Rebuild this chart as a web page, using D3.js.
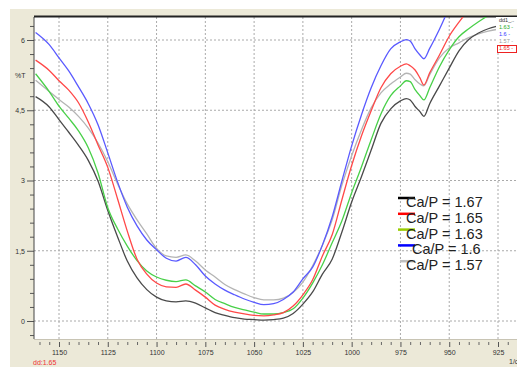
<!DOCTYPE html>
<html>
<head>
<meta charset="utf-8">
<script src="https://cdn.jsdelivr.net/npm/d3@7"></script>
<style>
  body { margin: 0; background: #fff; }
  svg { display: block; font-family: "Liberation Sans", Arial, sans-serif; }
</style>
</head>
<body>
<svg width="517" height="367"></svg>
<script>
// wavenumbers (1/cm) shared by all spectra
const waves = [1162, 1155, 1150, 1145, 1140, 1135, 1130, 1125, 1120, 1115, 1110, 1105,
  1100, 1095, 1090, 1085, 1080, 1075, 1070, 1065, 1060, 1055, 1050, 1045, 1040, 1035,
  1030, 1025, 1020, 1015, 1010, 1005, 1000, 995, 990, 985, 980, 975, 972, 970, 967.5,
  965, 963, 960, 955, 950, 945, 940, 935, 930, 925, 920, 916];

// %T for each Ca/P ratio
const t167 = [4.79, 4.57, 4.30, 4.03, 3.75, 3.43, 2.99, 2.36, 1.80, 1.28, 0.92, 0.67,
  0.51, 0.43, 0.41, 0.43, 0.38, 0.28, 0.18, 0.12, 0.07, 0.04, 0.03, 0.02, 0.03, 0.06,
  0.16, 0.36, 0.62, 1.00, 1.32, 1.90, 2.54, 3.08, 3.65, 4.22, 4.53, 4.70, 4.75, 4.72, 4.58,
  4.47, 4.37, 4.64, 5.02, 5.40, 5.77, 6.01, 6.15, 6.24, 6.30, 6.35, 6.37];
const t165 = [5.57, 5.35, 5.13, 4.93, 4.66, 4.25, 3.76, 3.28, 2.61, 1.92, 1.32, 1.00,
  0.81, 0.73, 0.72, 0.79, 0.66, 0.51, 0.34, 0.25, 0.19, 0.15, 0.12, 0.11, 0.13, 0.18,
  0.32, 0.56, 0.88, 1.39, 1.84, 2.59, 3.32, 3.95, 4.49, 4.98, 5.28, 5.44, 5.49, 5.45, 5.36,
  5.19, 5.04, 5.30, 5.68, 6.08, 6.38, 6.65, 6.90, 7.10, 7.25, 7.40, 7.50];
const t163 = [5.28, 4.90, 4.59, 4.33, 4.06, 3.70, 3.16, 2.42, 1.97, 1.60, 1.29, 1.07,
  0.94, 0.87, 0.84, 0.88, 0.75, 0.62, 0.46, 0.37, 0.29, 0.24, 0.19, 0.15, 0.15, 0.18,
  0.26, 0.49, 0.81, 1.20, 1.67, 2.14, 2.74, 3.29, 3.87, 4.42, 4.81, 5.02, 5.13, 5.11, 4.94,
  4.81, 4.72, 4.98, 5.43, 5.79, 6.07, 6.24, 6.39, 6.52, 6.62, 6.73, 6.79];
const t160 = [6.16, 5.90, 5.62, 5.34, 5.00, 4.64, 4.19, 3.59, 2.97, 2.43, 2.03, 1.73,
  1.52, 1.34, 1.28, 1.36, 1.20, 0.96, 0.79, 0.66, 0.56, 0.47, 0.40, 0.35, 0.37, 0.46,
  0.62, 0.90, 1.15, 1.62, 2.22, 2.99, 3.74, 4.40, 4.98, 5.45, 5.81, 5.96, 6.01, 5.98, 5.81,
  5.68, 5.60, 5.82, 6.23, 6.68, 7.05, 7.35, 7.60, 7.80, 7.90, 8.00, 8.00];
const t157 = [5.14, 4.90, 4.73, 4.57, 4.37, 4.12, 3.80, 3.40, 2.93, 2.50, 2.16, 1.86,
  1.55, 1.39, 1.36, 1.41, 1.28, 1.09, 0.94, 0.78, 0.67, 0.58, 0.50, 0.45, 0.45, 0.49,
  0.61, 0.83, 1.18, 1.62, 2.16, 2.90, 3.53, 4.08, 4.55, 4.87, 5.06, 5.21, 5.29, 5.27, 5.15,
  5.06, 5.02, 5.26, 5.62, 5.83, 5.94, 6.05, 6.13, 6.19, 6.23, 6.26, 6.28];

const names = ["Ca/P = 1.67", "Ca/P = 1.65", "Ca/P = 1.63", "Ca/P = 1.6", "Ca/P = 1.57"];
const lineColors = ["#4a4a4a", "#ff4848", "#48d048", "#5a5aff", "#b4b4b4"];
const keyColors = ["#000000", "#ff0000", "#99cc00", "#0000ff", "#c0c0c0"];
const seriesValues = [t167, t165, t163, t160, t157];

const yMajor = [0, 1.5, 3, 4.5, 6];
const xMajor = [1150, 1125, 1100, 1075, 1050, 1025, 1000, 975, 950, 925];

const miniLabels = ["dd1_..", "1.63 -", "1.6 -", "1.57 -", "1.65 -"];
const miniColors = ["#333", "#2a2", "#33f", "#999", "#e22"];

const W = 517, H = 367;
const plot = { left: 34, right: 517, top: 17, bottom: 339 };

const svg = d3.select("svg");

// beige frame
svg.append("rect").attr("x", 10).attr("y", 9).attr("width", W - 10).attr("height", H - 9)
  .attr("fill", "#ece9d8");
svg.append("rect").attr("x", plot.left).attr("y", plot.top)
  .attr("width", plot.right - plot.left).attr("height", plot.bottom - plot.top)
  .attr("fill", "#fff");

const x = d3.scaleLinear().domain([1150, 925]).range([59, 498]);
const y = d3.scaleLinear().domain([0, 6]).range([321, 40]);

// grid
const grid = svg.append("g").attr("stroke", "#aaa").attr("stroke-dasharray", "2,2");
grid.selectAll(".v").data(xMajor).enter().append("line")
  .attr("x1", d => x(d)).attr("x2", d => x(d))
  .attr("y1", plot.top).attr("y2", plot.bottom);
grid.selectAll(".h").data(yMajor).enter().append("line")
  .attr("y1", d => y(d)).attr("y2", d => y(d))
  .attr("x1", plot.left).attr("x2", plot.right);

// left axis
const yMinor = d3.range(-0.3, 6.5, 0.3).filter(v => yMajor.every(m => Math.abs(m - v) > 0.01));
svg.append("g").attr("transform", `translate(${plot.left},0)`)
  .call(d3.axisLeft(y).tickValues(yMinor).tickSize(4).tickFormat(""))
  .call(g => g.select(".domain").remove())
  .call(g => g.selectAll("line").attr("stroke", "#555"));
svg.append("g").attr("transform", `translate(${plot.left},0)`)
  .call(d3.axisLeft(y).tickValues(yMajor).tickSize(7).tickPadding(2)
    .tickFormat(d => String(d).replace(".", ",")))
  .call(g => g.select(".domain").remove())
  .call(g => g.selectAll("line").attr("stroke", "#555"))
  .call(g => g.selectAll("text").attr("font-size", 7).attr("fill", "#333"));
svg.append("line").attr("x1", plot.left).attr("x2", plot.left)
  .attr("y1", plot.top).attr("y2", plot.bottom).attr("stroke", "#444");

// bottom axis
const xMinor = d3.range(1160, 915, -5).filter(v => v % 25 !== 0);
svg.append("line").attr("x1", plot.left).attr("x2", plot.right)
  .attr("y1", plot.bottom + 0.5).attr("y2", plot.bottom + 0.5).attr("stroke", "#c8c4b4");
svg.append("g").attr("transform", `translate(0,${plot.bottom + 3})`)
  .call(d3.axisBottom(x).tickValues(xMinor).tickSize(3).tickFormat(""))
  .call(g => g.select(".domain").remove())
  .call(g => g.selectAll("line").attr("stroke", "#666"));
svg.append("g").attr("transform", `translate(0,${plot.bottom + 3})`)
  .call(d3.axisBottom(x).tickValues(xMajor).tickSize(5).tickPadding(3).tickFormat(d3.format("d")))
  .call(g => g.select(".domain").remove())
  .call(g => g.selectAll("line").attr("stroke", "#555"))
  .call(g => g.selectAll("text").attr("font-size", 7).attr("fill", "#333"));

// top border
svg.append("line").attr("x1", plot.left).attr("x2", W)
  .attr("y1", plot.top - 0.5).attr("y2", plot.top - 0.5)
  .attr("stroke", "#222").attr("stroke-width", 2);

svg.append("text").attr("x", 15).attr("y", 78).attr("font-size", 7).attr("fill", "#333").text("%T");
svg.append("text").attr("x", 33).attr("y", 365).attr("font-size", 7).attr("fill", "#e33").text("dd:1.65");
svg.append("text").attr("x", 509).attr("y", 364).attr("font-size", 7).attr("fill", "#333").text("1/c");

// spectra
svg.append("clipPath").attr("id", "clip").append("rect")
  .attr("x", plot.left + 1).attr("y", plot.top).attr("width", plot.right - plot.left)
  .attr("height", plot.bottom - plot.top);

const line = d3.line()
  .x((d, i) => x(waves[i]))
  .y(d => y(d))
  .curve(d3.curveMonotoneX);

// draw grey first so the others sit on top like the original
const order = [4, 0, 2, 1, 3];
svg.append("g").attr("clip-path", "url(#clip)")
  .selectAll("path").data(order).enter().append("path")
  .attr("d", i => line(seriesValues[i]))
  .attr("fill", "none")
  .attr("stroke", i => lineColors[i])
  .attr("stroke-width", 1.3);

// small legend in the top right corner
const mini = svg.append("g");
mini.append("rect").attr("x", 496).attr("y", 17).attr("width", 21).attr("height", 36).attr("fill", "#fff");
mini.selectAll("text").data(miniLabels).enter().append("text")
  .attr("x", 499).attr("y", (d, i) => 22 + i * 7)
  .attr("font-size", 5.5).attr("fill", (d, i) => miniColors[i]).text(d => d);
mini.append("rect").attr("x", 497.5).attr("y", 45.5).attr("width", 19).attr("height", 7)
  .attr("fill", "none").attr("stroke", "#e22").attr("stroke-width", 1);

// main legend
const legend = svg.append("g");
const rows = legend.selectAll("g").data(names).enter().append("g")
  .attr("transform", (d, i) => `translate(0,${i * 15.8})`);
rows.append("line")
  .attr("x1", (d, i) => i === 4 ? 400 : 398).attr("x2", 415)
  .attr("y1", 198).attr("y2", 198)
  .attr("stroke", (d, i) => keyColors[i]).attr("stroke-width", 2.5);
rows.append("text")
  .attr("x", (d, i) => i === 3 ? 412 : 406).attr("y", 207)
  .attr("font-size", 14.5).attr("fill", "#222").text(d => d);
</script>
</body>
</html>
